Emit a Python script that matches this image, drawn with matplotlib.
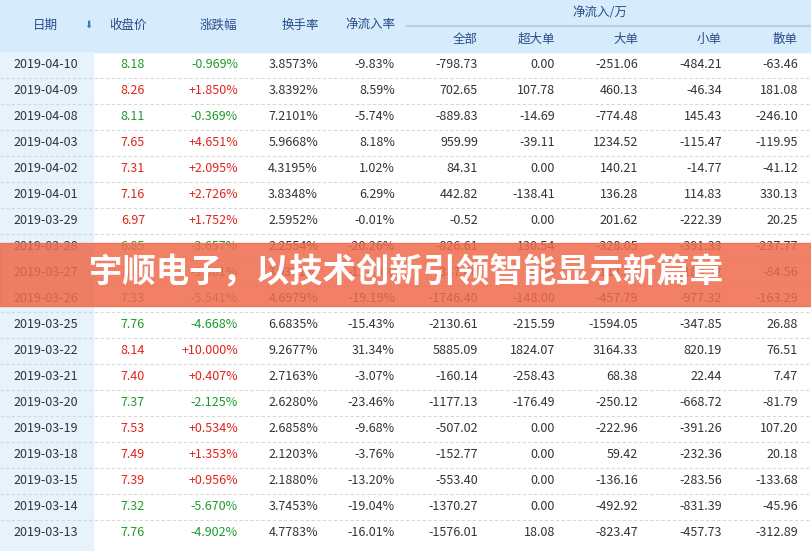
import matplotlib
matplotlib.use("Agg")
import matplotlib.pyplot as plt
from matplotlib.patches import Rectangle

plt.rcParams["font.family"] = ["Noto Sans CJK SC", "DejaVu Sans"]

dates = ["2019-04-10","2019-04-09","2019-04-08","2019-04-03","2019-04-02","2019-04-01","2019-03-29",
         "2019-03-28","2019-03-27","2019-03-26","2019-03-25","2019-03-22","2019-03-21","2019-03-20",
         "2019-03-19","2019-03-18","2019-03-15","2019-03-14","2019-03-13"]
close = [8.18,8.26,8.11,7.65,7.31,7.16,6.97,6.85,7.11,7.33,7.76,8.14,7.40,7.37,7.53,7.49,7.39,7.32,7.76]
change = ["-0.969%","+1.850%","-0.369%","+4.651%","+2.095%","+2.726%","+1.752%","-3.657%","-3.001%",
          "-5.541%","-4.668%","+10.000%","+0.407%","-2.125%","+0.534%","+1.353%","+0.956%","-5.670%","-4.902%"]
turnover = ["3.8573%","3.8392%","7.2101%","5.9668%","4.3195%","3.8348%","2.5952%","2.2554%","3.0381%",
            "4.6979%","6.6835%","9.2677%","2.7163%","2.6280%","2.6858%","2.1203%","2.1880%","3.7453%","4.7783%"]
rate = ["-9.83%","8.59%","-5.74%","8.18%","1.02%","6.29%","-0.01%","-20.26%","-11.19%","-19.19%","-15.43%",
        "31.34%","-3.07%","-23.46%","-9.68%","-3.76%","-13.20%","-19.04%","-16.01%"]
total = ["-798.73","702.65","-889.83","959.99","84.31","442.82","-0.52","-826.61","-387.46","-1746.40","-2130.61",
         "5885.09","-160.14","-1177.13","-507.02","-152.77","-553.40","-1370.27","-1576.01"]
xl = ["0.00","107.78","-14.69","-39.11","0.00","-138.41","0.00","130.54","0.00","-148.00","-215.59",
      "1824.07","-258.43","-176.49","0.00","0.00","0.00","0.00","18.08"]
big = ["-251.06","460.13","-774.48","1234.52","140.21","136.28","201.62","-328.05","-113.58","-457.79","-1594.05",
       "3164.33","68.38","-250.12","-222.96","59.42","-136.16","-492.92","-823.47"]
small = ["-484.21","-46.34","145.43","-115.47","-14.77","114.83","-222.39","-391.33","-189.32","-977.32","-347.85",
         "820.19","22.44","-668.72","-391.26","-232.36","-283.56","-831.39","-457.73"]
retail = ["-63.46","181.08","-246.10","-119.95","-41.12","330.13","20.25","-237.77","-84.56","-163.29","26.88",
          "76.51","7.47","-81.79","107.20","20.18","-133.68","-45.96","-312.89"]

W, H = 812, 551
fig = plt.figure(figsize=(W/100, H/100), dpi=100)
ax = fig.add_axes([0, 0, 1, 1])
ax.set_xlim(0, W); ax.set_ylim(H, 0); ax.axis("off")

hdr_c = "#d6ebfb"
ax.add_patch(Rectangle((0, 0), W, 52, color=hdr_c, zorder=0))
ax.add_patch(Rectangle((0, 52), 93, H-52, color="#e6f2fc", zorder=0))
ax.plot([407, W], [26, 26], color="#b9cfe3", lw=1.5)
hc = "#2a4e8a"
fs = 9
for x, t in [(45, "日期"), (128, "收盘价"), (218, "涨跌幅"), (300, "换手率"), (370, "净流入率")]:
    ax.text(x, 25, t, ha="center", va="center", fontsize=fs, color=hc)
ax.text(88, 25, "⬇", ha="center", va="center", fontsize=7, color="#3b78c4", family="DejaVu Sans")
ax.text(600, 12, "净流入/万", ha="center", va="center", fontsize=fs, color=hc)
for x, t in [(478, "全部"), (555, "超大单"), (638, "大单"), (722, "小单"), (798, "散单")]:
    ax.text(x, 39, t, ha="right", va="center", fontsize=fs, color=hc)

rh = 26
red, green, dark = "#e0241b", "#1e9a2a", "#333333"
for i in range(len(dates)):
    y = 52 + rh*(i+0.5)
    if i > 0:
        ax.plot([0, W], [52+rh*i]*2, color="#d8d8d8", lw=0.8, ls=(0, (3, 2)))
    c = red if change[i].startswith("+") else green
    ax.text(46, y, dates[i], ha="center", va="center", fontsize=fs, color=dark)
    ax.text(145, y, f"{close[i]:.2f}", ha="right", va="center", fontsize=fs, color=c)
    ax.text(238, y, change[i], ha="right", va="center", fontsize=fs, color=c)
    for x, arr in [(318, turnover), (395, rate), (478, total), (555, xl), (638, big), (722, small), (798, retail)]:
        ax.text(x, y, arr[i], ha="right", va="center", fontsize=fs, color=dark)

ax.add_patch(Rectangle((0, 243), W, 63, color="#ef6a4c", alpha=0.85, zorder=5))
ax.text(406, 273, "宇顺电子，以技术创新引领智能显示新篇章", ha="center", va="center",
        fontsize=24, fontweight="bold", color="white", zorder=6)

fig.savefig("out.png", dpi=100)
